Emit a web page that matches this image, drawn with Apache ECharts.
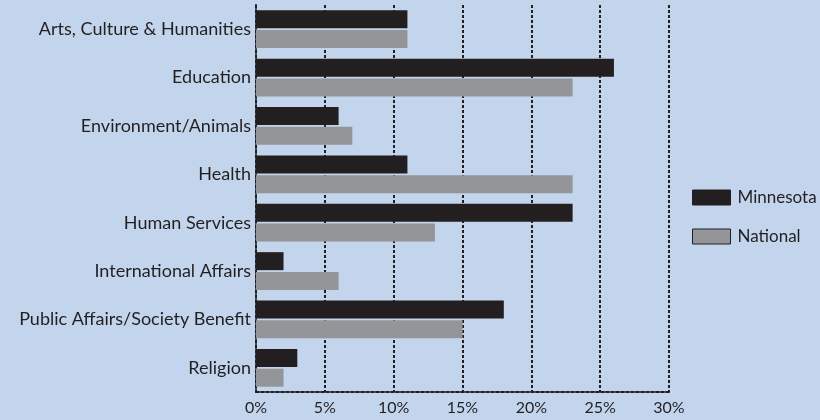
<!DOCTYPE html>
<html><head><meta charset="utf-8">
<script src="https://cdn.jsdelivr.net/npm/echarts@6/dist/echarts.min.js"></script>
<style>html,body{margin:0;padding:0;background:#c3d5ed;}#c{width:820px;height:420px;}</style>
</head><body><div id="c"></div>
<script>
const categories = ["Arts, Culture & Humanities","Education","Environment/Animals","Health","Human Services","International Affairs","Public Affairs/Society Benefit","Religion"];
const minnesota = [11, 26, 6, 11, 23, 2, 18, 3];
const national = [11, 23, 7, 23, 13, 6, 15, 2];
const seriesNames = ["Minnesota","National"];
const font = "Lato, 'Noto Sans', sans-serif";
const chart = echarts.init(document.getElementById('c'));
chart.setOption({
  backgroundColor: '#c3d5ed',
  animation: false,
  textStyle: {fontFamily: font},
  grid: {left: 256, right: 151, top: 5, bottom: 28, containLabel: false},
  legend: {
    orient: 'vertical', left: 687, top: 184, itemWidth: 38, itemHeight: 15, itemGap: 22,
    icon: 'rect',
    textStyle: {fontSize: 17, color: '#231f20', fontFamily: font, padding: [0,0,0,2]},
    data: [
      {name: seriesNames[0], itemStyle: {color: '#231f20', borderColor: '#231f20', borderWidth: 1}},
      {name: seriesNames[1], itemStyle: {color: '#939598', borderColor: '#231f20', borderWidth: 1}}
    ]
  },
  xAxis: {
    type: 'value', min: 0, max: 30, interval: 5,
    axisLine: {show: true, lineStyle: {color: '#231f20', type: [3,2], width: 2}},
    axisTick: {show: false},
    splitLine: {show: true, lineStyle: {color: '#231f20', type: [3,2], width: 2}},
    axisLabel: {formatter: '{value}%', fontSize: 16, color: '#231f20', margin: 8, fontFamily: font}
  },
  yAxis: {
    type: 'category', data: categories, inverse: true,
    axisLine: {show: true, lineStyle: {color: '#231f20', type: [3,2], width: 2}},
    axisTick: {show: false},
    axisLabel: {fontSize: 18, color: '#231f20', margin: 5, fontFamily: font}
  },
  series: [
    {name: seriesNames[0], type: 'bar', data: minnesota, barWidth: 18, barGap: '10%', itemStyle: {color: '#231f20'}},
    {name: seriesNames[1], type: 'bar', data: national, barWidth: 18, barGap: '10%', itemStyle: {color: '#939598'}}
  ]
});
</script></body></html>
